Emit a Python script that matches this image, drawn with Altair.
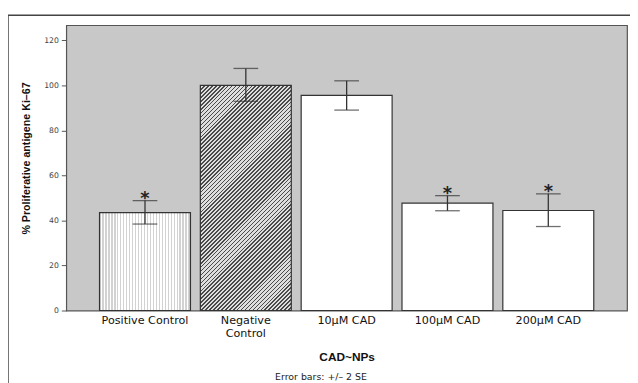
import math
import altair as alt
import pandas as pd

# ---- data ----
categories = ["Positive Control", "Negative Control", "10µM CAD", "100µM CAD", "200µM CAD"]
means = [43.5, 100.0, 95.5, 47.7, 44.4]
err_low = [38.4, 92.9, 89.0, 44.3, 37.3]
err_high = [48.8, 107.5, 102.0, 51.0, 51.8]
signif = ["*", "", "", "*", "*"]
y_ticks = [0, 20, 40, 60, 80, 100, 120]

x_title = "CAD~NPs"
y_title = "% Proliferative antigene Ki–67"
note = "Error bars: +/– 2 SE"

df = pd.DataFrame({"cat": categories, "mean": means, "lo": err_low,
                   "hi": err_high, "sig": signif})

W, H = 568, 289
Y_MAX = 126.7
P_IN, P_OUT = 0.098, 0.33
step = W / (len(categories) - P_IN + 2 * P_OUT)
bar_w = step * (1 - P_IN)


def stripes(n, dark, light, frac):
    # n may be fractional: one period = 1/n of the gradient
    stops = []
    for i in range(math.ceil(n)):
        s, m, e = i / n, (i + frac) / n, (i + 1) / n
        for off, col in ((s, dark), (m, dark), (m, light), (e, light)):
            stops.append(alt.GradientStop(offset=min(off, 1), color=col))
    return stops


def hatch(bar_h, period_px=4.0, dark="#4a4a4a", light="#dedede", frac=0.42):
    # diagonal 45-degree stripes ("///") in bbox units, horizontal period in px
    r = bar_w / bar_h
    k = (r + 1) / (r ** 2 + 1)
    n = (bar_w + bar_h) / period_px
    return alt.LinearGradient(gradient="linear", x1=0, y1=0, x2=r * k, y2=k,
                              stops=stripes(n, dark, light, frac))


def dots(period_px=3.0, dark="#d2d2d2", light="#ffffff", frac=0.4):
    return alt.LinearGradient(gradient="linear", x1=0, y1=0, x2=1, y2=0,
                              stops=stripes(bar_w / period_px, dark, light, frac))


label_expr = ("datum.label == 'Negative Control' ? ['Negative', 'Control'] : datum.label")

x_enc = alt.X("cat:N", sort=categories,
              scale=alt.Scale(paddingInner=P_IN, paddingOuter=P_OUT),
              axis=alt.Axis(title=x_title, labelAngle=0, ticks=False, domain=False,
                            labelExpr=label_expr, labelFont="DejaVu Sans",
                            labelFontSize=11.3, labelColor="#111", labelPadding=4,
                            labelLineHeight=13,
                            titleFont="Liberation Sans", titleFontSize=12,
                            titleFontWeight="bold", titleColor="#111",
                            titleBaseline="middle", titleY=47))
y_enc = alt.Y("mean:Q", scale=alt.Scale(domain=[0, Y_MAX], nice=False),
              axis=alt.Axis(title=y_title, values=y_ticks, grid=False, domain=False,
                            tickSize=5, tickColor="#555", tickWidth=1,
                            labelFont="DejaVu Sans", labelFontSize=7.8,
                            labelColor="#444", labelPadding=3,
                            titleFont="Liberation Sans", titleFontSize=10.8,
                            titleFontWeight="bold", titleColor="#111",
                            titleAngle=-90, titleBaseline="middle",
                            titleX=-40, titleY=134.5))

base = alt.Chart(df)

white_bars = base.mark_bar(fill="white", stroke="#333", strokeWidth=1.2).encode(
    x=x_enc, y=y_enc).transform_filter(
    alt.FieldOneOfPredicate(field="cat", oneOf=categories[2:]))

neg_h = means[1] / Y_MAX * H
neg_bar = base.mark_bar(fill=hatch(neg_h), stroke="#333", strokeWidth=1.2).encode(
    x=x_enc, y=y_enc).transform_filter(alt.datum.cat == categories[1])

pos_bar = base.mark_bar(fill=dots(), stroke="#333", strokeWidth=1.2).encode(
    x=x_enc, y=y_enc).transform_filter(alt.datum.cat == categories[0])

err_rule = base.mark_rule(color="#333", strokeWidth=1.3).encode(
    x=x_enc, y="lo:Q", y2="hi:Q")
cap_hi = base.mark_tick(color="#333", thickness=1.3, size=25).encode(x=x_enc, y="hi:Q")
cap_lo = base.mark_tick(color="#333", thickness=1.3, size=25).encode(x=x_enc, y="lo:Q")

stars = base.mark_text(font="DejaVu Sans", fontSize=18, fontWeight="bold",
                       color="#222", baseline="alphabetic", dy=3).encode(
    x=x_enc, y="hi:Q", text="sig:N")

one = alt.Chart(pd.DataFrame({"t": [note]}))
note_txt = one.mark_text(font="DejaVu Sans", fontSize=9.5, color="#222",
                         baseline="top", align="center").encode(
    x=alt.value(258), y=alt.value(351), text="t:N")

frame_left = one.mark_rule(color="#444", strokeWidth=1.5).encode(
    x=alt.value(-59), y=alt.value(-10), y2=alt.value(400))
frame_top = one.mark_rule(color="#444", strokeWidth=1.5).encode(
    x=alt.value(-59), x2=alt.value(W + 20), y=alt.value(-10))

chart = alt.layer(pos_bar, neg_bar, white_bars, err_rule, cap_hi, cap_lo, stars,
                  note_txt, frame_left, frame_top).properties(
    width=W, height=H,
    autosize=alt.AutoSizeParams(type="none"),
    padding={"left": 59, "top": 15, "right": 3, "bottom": 71},
).configure_view(fill="#c8c8c8", stroke="#555", strokeWidth=1.2)

chart.save("out.html", embed_options={"renderer": "svg", "actions": False})
